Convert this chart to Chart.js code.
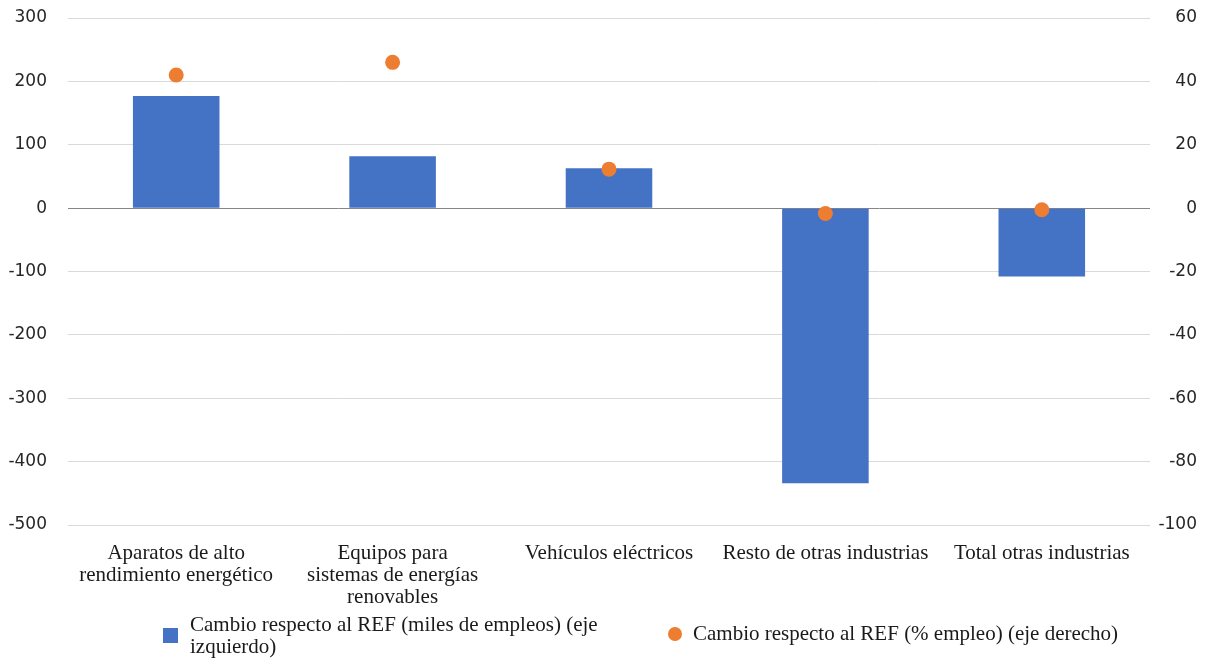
<!DOCTYPE html>
<html>
<head>
<meta charset="utf-8">
<script src="https://cdn.jsdelivr.net/npm/chart.js@4.4.1/dist/chart.umd.min.js"></script>
<style>
  html, body { margin: 0; padding: 0; background: #fff; }
  #wrap { position: relative; width: 1206px; height: 660px; }
  #c { position: absolute; left: 0; top: 0; }
  .lg { position: absolute; font-family: "Liberation Serif", serif; font-size: 21px; line-height: 22px; color: #1a1a1a; white-space: nowrap; }
  .sw { position: absolute; }
</style>
</head>
<body>
<div id="wrap">
  <canvas id="c" width="1206" height="660"></canvas>
  <div class="sw" id="sw1" style="left:163px; top:628px; width:15px; height:15px; background:#4472C4;"></div>
  <div class="lg" id="lg1" style="left:190px; top:613px;"></div>
  <div class="sw" id="sw2" style="left:668px; top:627px; width:14px; height:14px; border-radius:50%; background:#ED7D31;"></div>
  <div class="lg" id="lg2" style="left:693px; top:622px;"></div>
</div>
<script>
const categories = [
  ["Aparatos de alto", "rendimiento energético"],
  ["Equipos para", "sistemas de energías", "renovables"],
  "Vehículos eléctricos",
  "Resto de otras industrias",
  "Total otras industrias"
];
const seriesBarName = ["Cambio respecto al REF (miles de empleos) (eje", "izquierdo)"];
const seriesDotName = "Cambio respecto al REF (% empleo) (eje derecho)";
const barValues = [177, 82, 63, -434, -108];
const dotValues = [42, 46, 12.3, -1.7, -0.5];
const leftTicks = [-500, -400, -300, -200, -100, 0, 100, 200, 300];
const rightTicks = [-100, -80, -60, -40, -20, 0, 20, 40, 60];

document.getElementById('lg1').innerHTML = seriesBarName.join('<br>');
document.getElementById('lg2').textContent = seriesDotName;

const tickFont = { family: "DejaVu Sans", size: 17 };
const ctx = document.getElementById('c').getContext('2d');
new Chart(ctx, {
  type: 'bar',
  data: {
    labels: categories,
    datasets: [
      {
        type: 'line',
        label: seriesDotName,
        data: dotValues,
        yAxisID: 'y1',
        showLine: false,
        pointRadius: 7.5,
        pointHoverRadius: 7.5,
        pointBackgroundColor: '#ED7D31',
        pointBorderColor: '#ED7D31',
        pointBorderWidth: 0,
        backgroundColor: '#ED7D31',
        borderColor: '#ED7D31',
        order: 0
      },
      {
        type: 'bar',
        label: seriesBarName.join(' '),
        data: barValues,
        yAxisID: 'y',
        backgroundColor: '#4472C4',
        borderWidth: 0,
        categoryPercentage: 0.8,
        barPercentage: 0.5,
        order: 1
      }
    ]
  },
  options: {
    responsive: false,
    animation: false,
    layout: { padding: { top: 18, left: 0, right: 9, bottom: 0 } },
    plugins: { legend: { display: false }, tooltip: { enabled: false } },
    scales: {
      x: {
        grid: { display: false, drawTicks: false },
        border: { display: false },
        ticks: {
          font: { family: "Liberation Serif", size: 21, lineHeight: 1.05 },
          color: '#1a1a1a',
          padding: 17,
          maxRotation: 0,
          autoSkip: false
        },
        afterFit: (s) => { s.height = 135; s.paddingLeft = 0; s.paddingRight = 0; }
      },
      y: {
        position: 'left',
        min: leftTicks[0],
        max: leftTicks[leftTicks.length - 1],
        afterBuildTicks: (s) => { s.ticks = leftTicks.map(v => ({ value: v })); },
        grid: {
          drawTicks: false,
          lineWidth: 1,
          color: (c) => (c.tick && c.tick.value === 0) ? '#868686' : '#d9d9d9'
        },
        border: { display: false },
        ticks: { font: tickFont, color: '#262626', padding: 21 },
        afterFit: (s) => { s.width = 68; s.paddingTop = 0; s.paddingBottom = 0; }
      },
      y1: {
        position: 'right',
        min: rightTicks[0],
        max: rightTicks[rightTicks.length - 1],
        afterBuildTicks: (s) => { s.ticks = rightTicks.map(v => ({ value: v })); },
        grid: { display: false, drawTicks: false },
        border: { display: false },
        ticks: { font: tickFont, color: '#262626', padding: 10, crossAlign: 'far' },
        afterFit: (s) => { s.width = 47; s.paddingTop = 0; s.paddingBottom = 0; }
      }
    }
  }
});
</script>
</body>
</html>
